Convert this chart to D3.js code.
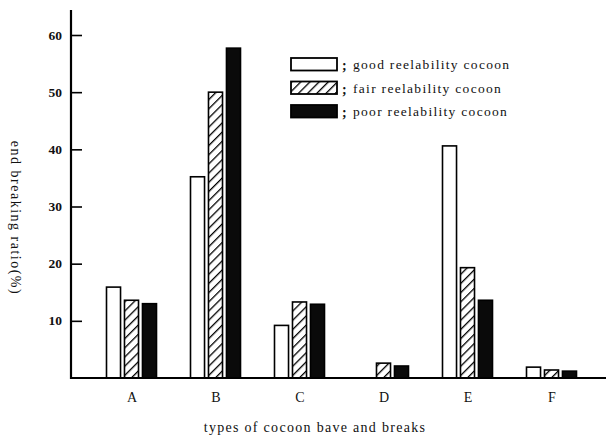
<!DOCTYPE html>
<html>
<head>
<meta charset="utf-8">
<script src="https://cdn.jsdelivr.net/npm/d3@7"></script>
<style>
  html, body { margin: 0; padding: 0; background: #fff; }
  svg { display: block; }
  text { font-family: "Liberation Serif", "DejaVu Serif", serif; fill: #111; }
</style>
</head>
<body>
<svg id="chart" width="608" height="441"></svg>
<script>
// End breaking ratio (%) by type of cocoon, grouped by reelability
const categories = ["A", "B", "C", "D", "E", "F"];
const seriesNames = ["good", "fair", "poor"];
const legendLabels = ["good reelability cocoon", "fair reelability cocoon", "poor reelability cocoon"];
const goodValues = [15.9, 35.2, 9.2, 0, 40.6, 1.9];
const fairValues = [13.6, 50.0, 13.3, 2.6, 19.3, 1.4];
const poorValues = [13.0, 57.7, 12.9, 2.1, 13.6, 1.2];
const yTicks = [10, 20, 30, 40, 50, 60];

const valuesBySeries = { good: goodValues, fair: fairValues, poor: poorValues };

const svg = d3.select("#chart");
const defs = svg.append("defs");

// diagonal hatch for the fair series
const hatch = defs.append("pattern")
  .attr("id", "hatch")
  .attr("patternUnits", "userSpaceOnUse")
  .attr("width", 6.5).attr("height", 6.5)
  .attr("patternTransform", "rotate(45)");
hatch.append("rect").attr("width", 6.5).attr("height", 6.5).attr("fill", "#fff");
hatch.append("line")
  .attr("x1", 0).attr("y1", 0).attr("x2", 0).attr("y2", 6.5)
  .attr("stroke", "#000").attr("stroke-width", 2.6);

const fills = { good: "#fff", fair: "url(#hatch)", poor: "#0a0a0a" };

const axisX = 71, baseY = 378;

const x = d3.scalePoint().domain(categories).range([131.5, 551.5]);
const xInner = d3.scaleBand().domain(seriesNames).range([-25, 25]).paddingInner(0.22);
const y = d3.scaleLinear().domain([0, 60]).range([baseY, 35]);

// bars
const groups = svg.append("g").selectAll("g")
  .data(categories)
  .join("g")
  .attr("transform", d => `translate(${x(d)},0)`);

groups.selectAll("rect")
  .data((c, i) => seriesNames.map(s => ({ s, v: valuesBySeries[s][i] })).filter(d => d.v > 0))
  .join("rect")
  .attr("x", d => xInner(d.s))
  .attr("width", xInner.bandwidth())
  .attr("y", d => y(d.v))
  .attr("height", d => baseY - y(d.v))
  .attr("fill", d => fills[d.s])
  .attr("stroke", "#000")
  .attr("stroke-width", 1.6);

// y axis with inward ticks
const yAxis = d3.axisRight(y).tickValues(yTicks).tickSize(11).tickFormat("");
const yg = svg.append("g").attr("transform", `translate(${axisX},0)`).call(yAxis);
yg.select(".domain").remove();
yg.selectAll(".tick line").attr("stroke", "#000").attr("stroke-width", 1.6);
svg.append("line")
  .attr("x1", axisX).attr("x2", axisX)
  .attr("y1", 10).attr("y2", baseY + 1)
  .attr("stroke", "#000").attr("stroke-width", 2.2);

svg.append("g").selectAll("text")
  .data(yTicks)
  .join("text")
  .attr("x", 62)
  .attr("y", d => y(d) + 4.5)
  .attr("text-anchor", "end")
  .attr("font-size", 13.5)
  .attr("font-weight", "bold")
  .attr("fill", "#222")
  .text(d => d);

// baseline
svg.append("line")
  .attr("x1", axisX).attr("x2", 606)
  .attr("y1", baseY).attr("y2", baseY)
  .attr("stroke", "#000").attr("stroke-width", 2);

// category labels
const xAxis = d3.axisBottom(x).tickSize(0).tickPadding(0);
const xg = svg.append("g").attr("transform", `translate(0,${baseY + 24})`).call(xAxis);
xg.select(".domain").remove();
xg.selectAll("text")
  .attr("font-size", 14)
  .attr("font-family", "Liberation Serif, DejaVu Serif, serif")
  .attr("fill", "#222")
  .attr("dy", 0);

// axis titles
svg.append("text")
  .attr("x", 315).attr("y", 432)
  .attr("text-anchor", "middle")
  .attr("font-size", 14)
  .attr("letter-spacing", 1.3)
  .attr("fill", "#333")
  .text("types of cocoon bave and breaks");

svg.append("text")
  .attr("transform", "translate(11,218) rotate(90)")
  .attr("text-anchor", "middle")
  .attr("font-size", 14)
  .attr("letter-spacing", 1.5)
  .attr("fill", "#333")
  .text("end breaking ratio(%)");

// legend
const legend = svg.append("g").selectAll("g")
  .data(seriesNames)
  .join("g")
  .attr("transform", (d, i) => `translate(291,${58 + i * 23.5})`);

legend.append("rect")
  .attr("width", 46).attr("height", 12.5)
  .attr("fill", d => fills[d])
  .attr("stroke", "#000")
  .attr("stroke-width", 1.8);

legend.append("text")
  .attr("x", 51).attr("y", 12)
  .attr("font-size", 14)
  .attr("font-weight", "bold")
  .text(";");

legend.append("text")
  .attr("x", 62).attr("y", 11)
  .attr("font-size", 13.5)
  .attr("letter-spacing", 1.3)
  .attr("fill", "#222")
  .text((d, i) => legendLabels[i]);
</script>
</body>
</html>
